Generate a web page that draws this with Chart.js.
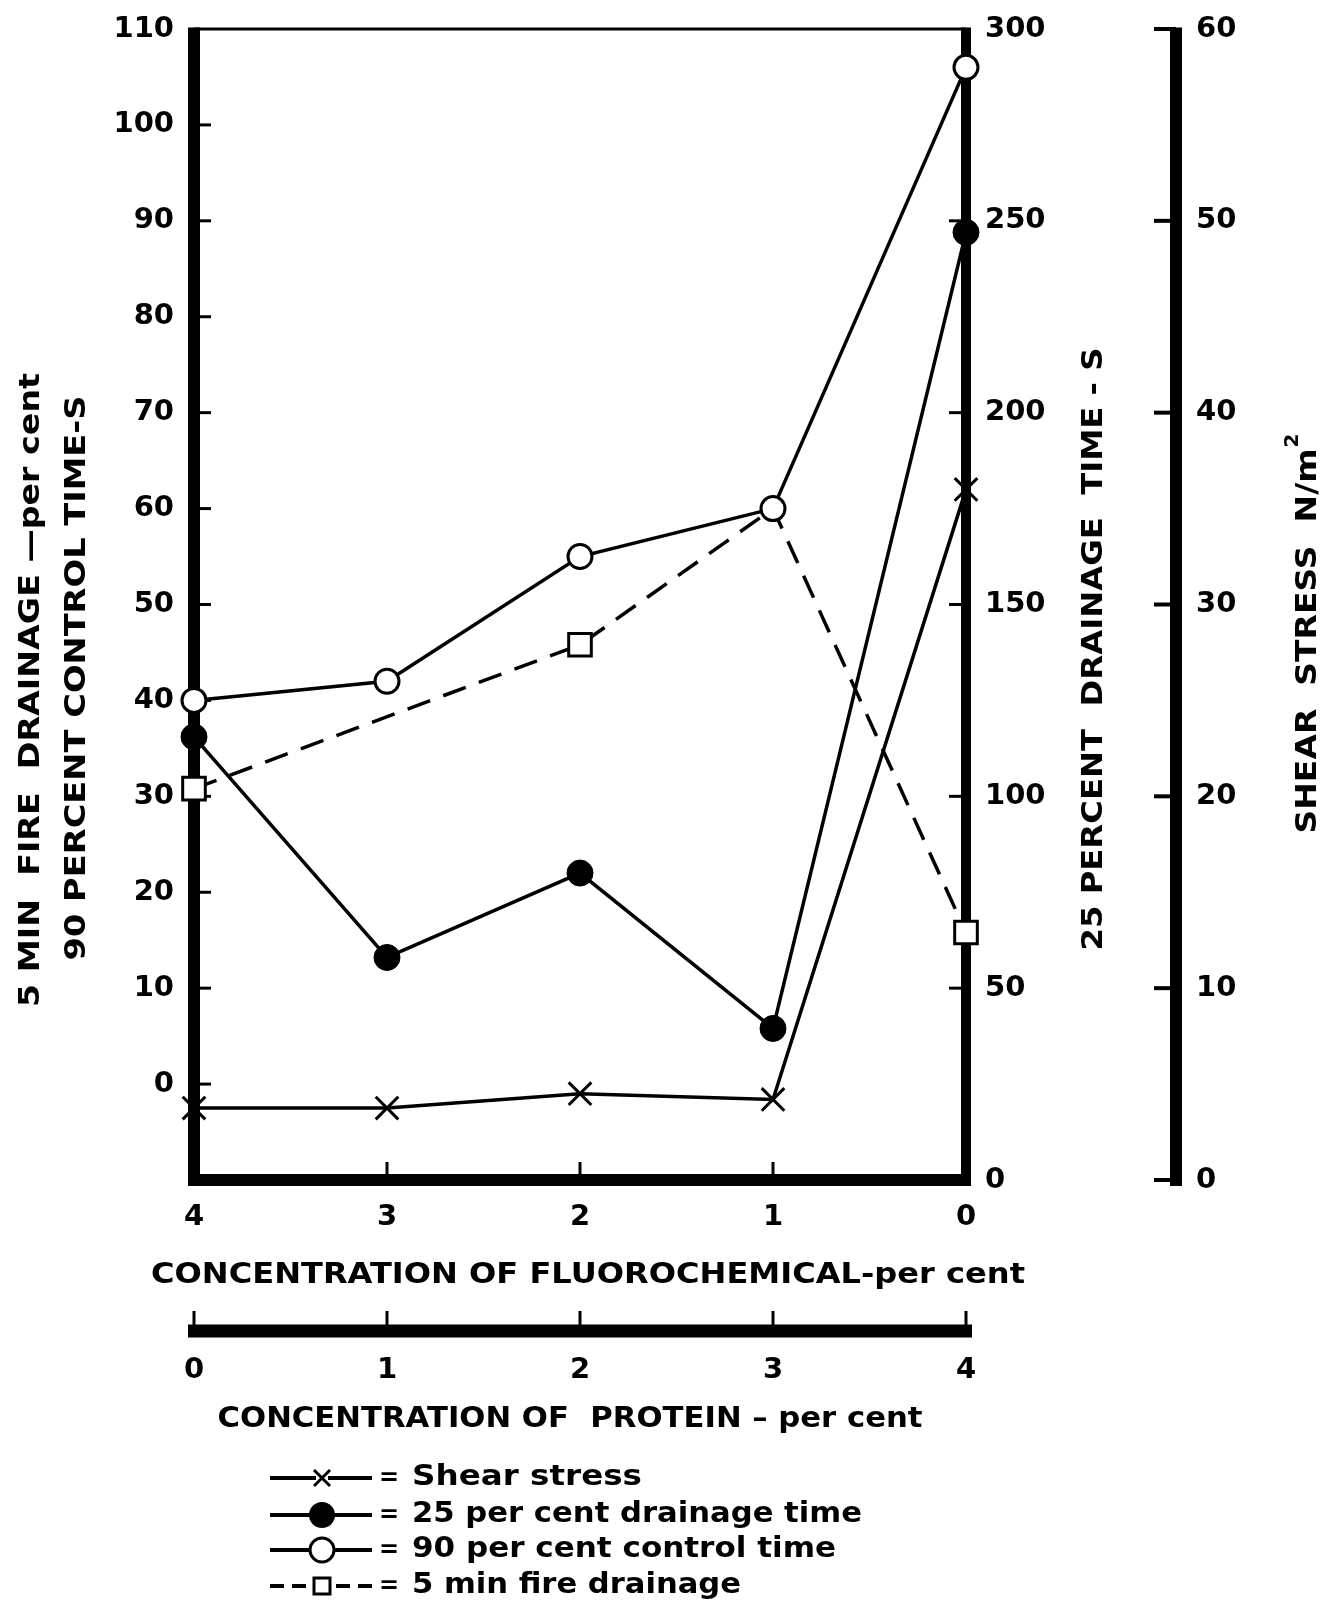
<!DOCTYPE html>
<html><head><meta charset="utf-8">
<script src="https://cdn.jsdelivr.net/npm/chart.js@4.4.0/dist/chart.umd.min.js"></script>
<style>html,body{margin:0;padding:0;background:#fff;} canvas{display:block;}</style>
</head><body>
<canvas id="c" width="1328" height="1603"></canvas>
<script>
// ---- data ----
const fluoroConc   = [4, 3, 2, 1, 0];          // % fluorochemical (top x axis)
const proteinConc  = [0, 1, 2, 3, 4];          // % protein (second x axis)
const shearStress  = [3.75, 3.75, 4.5, 4.2, 36.0];   // N/m2
const drainage25   = [115.5, 58, 80, 39.5, 247];      // s
const control90    = [40, 42, 55, 60, 106];           // s
const fireDrainage = [30.8, null, 45.8, 60, 15.8];    // per cent
const fireMarker   = [1, 0, 1, 0, 1];
const leftTicks    = [-10, 0, 10, 20, 30, 40, 50, 60, 70, 80, 90, 100, 110];
const rightTicks   = [0, 50, 100, 150, 200, 250, 300];
const shearTicks   = [0, 10, 20, 30, 40, 50, 60];

const legendLabels = ['Shear stress', '25 per cent drainage time', '90 per cent control time', '5 min fire drainage'];

const FONT = '"DejaVu Sans", sans-serif';
const pts = (ys) => fluoroConc.map((x, i) => ({x, y: ys[i]}));

function drawFit(ctx, text, cx, cy, size, target, rot, align, weight) {
  ctx.save();
  ctx.translate(cx, cy);
  ctx.rotate(rot || 0);
  ctx.font = (weight || 'bold') + ' ' + size + 'px ' + FONT;
  const w = ctx.measureText(text).width;
  ctx.scale(target / w, 1);
  ctx.textAlign = align || 'center';
  ctx.textBaseline = 'middle';
  ctx.fillStyle = '#000';
  ctx.fillText(text, 0, 0);
  ctx.restore();
}
function ln(ctx, x1, y1, x2, y2, w) {
  ctx.beginPath(); ctx.lineWidth = w; ctx.moveTo(x1, y1); ctx.lineTo(x2, y2); ctx.stroke();
}

const axesPlugin = {
  id: 'axesPlugin',
  beforeDatasetsDraw(chart) {
    const {ctx, chartArea: a, scales} = chart;
    ctx.save();
    ctx.strokeStyle = '#000'; ctx.lineCap = 'butt';
    // frame
    ln(ctx, a.left, a.top, a.right, a.top, 3);
    ln(ctx, a.left, a.top - 1.5, a.left, a.bottom + 6, 12);
    ln(ctx, a.left - 6, a.bottom, a.right + 5, a.bottom, 12);
    ln(ctx, a.right, a.top - 1.5, a.right, a.bottom + 6, 10);
    // left ticks (inward)
    leftTicks.forEach(v => { if (v >= 0 && v < 110) { const y = scales.yL.getPixelForValue(v); ln(ctx, a.left, y, a.left + 17, y, 3); } });
    // right ticks (inward)
    rightTicks.forEach(v => { if (v > 0 && v < 300) { const y = scales.yR.getPixelForValue(v); ln(ctx, a.right - 17, y, a.right, y, 3); } });
    // bottom ticks (upward)
    fluoroConc.forEach(v => { if (v > 0 && v < 4) { const x = scales.x.getPixelForValue(v); ln(ctx, x, a.bottom - 18, x, a.bottom, 3); } });
    // shear axis
    const sx = scales.yS.left;
    ln(ctx, sx, a.top - 1.5, sx, a.bottom + 6, 12);
    shearTicks.forEach(v => { const y = scales.yS.getPixelForValue(v); ln(ctx, sx - 22, y, sx, y, 4); });
    // protein axis
    const py = scales.xp.top;
    ln(ctx, scales.xp.getPixelForValue(0) - 6, py, scales.xp.getPixelForValue(4) + 6, py, 13);
    proteinConc.forEach(v => { const x = scales.xp.getPixelForValue(v); ln(ctx, x, py - 20, x, py, 3); });
    ctx.restore();

    // axis titles
    drawFit(ctx, '5 MIN  FIRE  DRAINAGE \u2014per cent', 31, 690, 29, 634, -Math.PI / 2);
    drawFit(ctx, '90 PERCENT CONTROL TIME-S', 77, 678, 29, 565, -Math.PI / 2);
    drawFit(ctx, '25 PERCENT  DRAINAGE  TIME - S', 1094, 649, 29, 603, -Math.PI / 2);
    // shear title with superscript
    ctx.save();
    ctx.translate(1308, 634); ctx.rotate(-Math.PI / 2);
    ctx.font = 'bold 29px ' + FONT;
    const main = 'SHEAR  STRESS  N/m';
    const wm = ctx.measureText(main).width;
    ctx.font = 'bold 20px ' + FONT;
    const w2 = ctx.measureText('2').width;
    const sc = (399 - w2) / wm;
    ctx.fillStyle = '#000'; ctx.textBaseline = 'middle'; ctx.textAlign = 'left';
    ctx.save(); ctx.translate(-199.5, 0); ctx.scale(sc, 1); ctx.font = 'bold 29px ' + FONT; ctx.fillText(main, 0, 0); ctx.restore();
    ctx.font = 'bold 20px ' + FONT; ctx.fillText('2', -199.5 + wm * sc + 1, -15);
    ctx.restore();
    drawFit(ctx, 'CONCENTRATION OF FLUOROCHEMICAL-per cent', 588, 1275, 29, 874, 0);
    drawFit(ctx, 'CONCENTRATION OF  PROTEIN \u2013 per cent', 570, 1419, 29, 705, 0);
  },
  afterDraw(chart) {
    const ctx = chart.ctx;
    const rows = [1478, 1515, 1550, 1586];
    ctx.save();
    ctx.strokeStyle = '#000'; ctx.fillStyle = '#000';
    rows.forEach((y, i) => {
      const cx = 322;
      if (i === 3) {
        ctx.setLineDash([14, 8]);
        ln(ctx, 270, y, 372, y, 4);
        ctx.setLineDash([]);
      } else {
        ln(ctx, 270, y, 372, y, 4);
      }
      ctx.lineWidth = 3;
      if (i === 0) {
        ctx.fillStyle = '#fff'; ctx.fillRect(cx - 6, y - 4, 12, 8); ctx.fillStyle = '#000';
        ln(ctx, cx - 8, y - 8, cx + 8, y + 8, 3); ln(ctx, cx - 8, y + 8, cx + 8, y - 8, 3);
      } else if (i === 1) {
        ctx.beginPath(); ctx.arc(cx, y, 13, 0, Math.PI * 2); ctx.fill();
      } else if (i === 2) {
        ctx.beginPath(); ctx.arc(cx, y, 12, 0, Math.PI * 2); ctx.fillStyle = '#fff'; ctx.fill(); ctx.stroke(); ctx.fillStyle = '#000';
      } else {
        ctx.fillStyle = '#fff'; ctx.fillRect(cx - 8, y - 8, 16, 16); ctx.fillStyle = '#000'; ctx.strokeRect(cx - 8, y - 8, 16, 16);
      }
      ctx.font = 'bold 24px ' + FONT; ctx.textAlign = 'center'; ctx.textBaseline = 'middle';
      ctx.fillText('=', 389, y + 1);
    });
    ctx.restore();
    const widths = [230, 450, 424, 329];
    rows.forEach((y, i) => drawFit(ctx, legendLabels[i], 412, y, 28, widths[i], 0, 'left'));
  }
};

const tickFont = {family: '"DejaVu Sans", sans-serif', size: 29, weight: 'bold'};
const hGrid = {display: false, drawTicks: false};
const vGrid = (len) => ({display: false, drawTicks: true, tickLength: len});

new Chart(document.getElementById('c'), {
  type: 'line',
  data: {
    datasets: [
      {label: 'Shear stress', data: pts(shearStress), xAxisID: 'x', yAxisID: 'yS',
       borderColor: '#000', borderWidth: 3.5, pointStyle: 'crossRot', pointRadius: 16,
       pointBorderWidth: 3, pointBackgroundColor: '#fff', pointBorderColor: '#000', clip: false},
      {label: '25 per cent drainage time', data: pts(drainage25), xAxisID: 'x', yAxisID: 'yR',
       borderColor: '#000', borderWidth: 3.5, pointStyle: 'circle', pointRadius: 13,
       pointBackgroundColor: '#000', pointBorderColor: '#000', pointBorderWidth: 1, clip: false},
      {label: '90 per cent control time', data: pts(control90), xAxisID: 'x', yAxisID: 'yL',
       borderColor: '#000', borderWidth: 3.5, pointStyle: 'circle', pointRadius: 12,
       pointBackgroundColor: '#fff', pointBorderColor: '#000', pointBorderWidth: 3, clip: false},
      {label: '5 min fire drainage', data: pts(fireDrainage), xAxisID: 'x', yAxisID: 'yL',
       borderColor: '#000', borderWidth: 3.5, borderDash: [24, 14], spanGaps: true,
       pointStyle: 'rect', pointRadius: fireMarker.map(m => m ? 16 : 0),
       pointBackgroundColor: '#fff', pointBorderColor: '#000', pointBorderWidth: 3, clip: false}
    ]
  },
  options: {
    responsive: false, animation: false,
    layout: {autoPadding: false, padding: {top: 29, bottom: 163, left: 0, right: 0}},
    plugins: {legend: {display: false}, tooltip: {enabled: false}},
    elements: {line: {tension: 0}},
    scales: {
      x: {type: 'linear', position: 'bottom', reverse: true, min: 0, max: 4, weight: 0,
          grid: hGrid, border: {display: false},
          ticks: {stepSize: 1, font: tickFont, color: '#000', padding: 20, maxRotation: 0},
          afterFit: s => { s.height = 151; }},
      xp: {type: 'linear', position: 'bottom', min: 0, max: 4, weight: 1,
           grid: hGrid, border: {display: false},
           ticks: {stepSize: 1, font: tickFont, color: '#000', padding: 22, maxRotation: 0},
           afterFit: s => { s.height = 109; }},
      yL: {type: 'linear', position: 'left', min: -10, max: 110,
           grid: vGrid(20), border: {display: false},
           ticks: {stepSize: 10, font: tickFont, color: '#000', padding: 0,
                   callback: v => (v === -10 ? '' : String(v))},
           afterFit: s => { s.width = 194; }},
      yR: {type: 'linear', position: 'right', min: 0, max: 300, weight: 0,
           grid: vGrid(19), border: {display: false},
           ticks: {stepSize: 50, font: tickFont, color: '#000', padding: 0},
           afterFit: s => { s.width = 210; }},
      yS: {type: 'linear', position: 'right', min: 0, max: 60, weight: 1,
           grid: vGrid(20), border: {display: false},
           ticks: {stepSize: 10, font: tickFont, color: '#000', padding: 0},
           afterFit: s => { s.width = 152; }}
    }
  },
  plugins: [axesPlugin]
});
</script>
</body></html>
